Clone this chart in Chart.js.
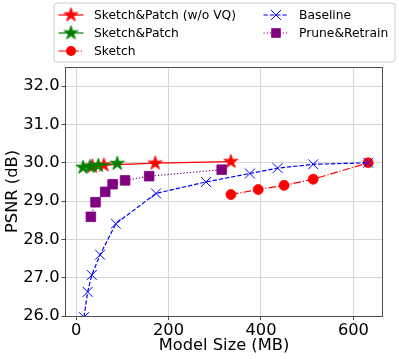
<!DOCTYPE html>
<html>
<head>
<meta charset="utf-8">
<script src="https://cdn.jsdelivr.net/npm/chart.js@4/dist/chart.umd.min.js"></script>
<style>
  html, body { margin: 0; padding: 0; background: #ffffff; }
  #wrap { position: relative; width: 399px; height: 359px; }
</style>
</head>
<body>
<div id="wrap"><canvas id="c" width="399" height="359"></canvas></div>
<script>
// ---- data ----
const seriesNames = ["Sketch&Patch (w/o VQ)", "Sketch&Patch", "Sketch", "Baseline", "Prune&Retrain"];

const wovqSize = [35, 60, 171, 335];
const wovqPsnr = [29.91, 29.94, 29.99, 30.03];

const spSize = [15, 30, 48, 89];
const spPsnr = [29.88, 29.90, 29.93, 29.98];

const sketchSize = [335, 394, 450, 513, 632];
const sketchPsnr = [29.17, 29.30, 29.41, 29.57, 30.00];

const baseSize = [17, 25, 34, 52, 86, 173, 281, 376, 436, 513, 632];
const basePsnr = [25.97, 26.63, 27.07, 27.60, 28.41, 29.20, 29.50, 29.72, 29.86, 29.96, 30.00];

const pruneSize = [32, 42, 63, 79, 106, 158, 315];
const prunePsnr = [28.59, 28.97, 29.24, 29.44, 29.54, 29.65, 29.82];

const yTickValues = [26, 27, 28, 29, 30, 31, 32];
const xTickValues = [0, 200, 400, 600];

const xTitle = "Model Size (MB)";
const yTitle = "PSNR (dB)";

// ---- helpers ----
function pts(xs, ys) { return xs.map((x, i) => ({x: x, y: ys[i]})); }

function makeStar(color, R) {
  const s = Math.ceil(2 * R + 2);
  const cv = document.createElement('canvas');
  cv.width = s; cv.height = s;
  const g = cv.getContext('2d');
  const cx = s / 2, cy = s / 2, r = R * 0.382;
  g.beginPath();
  for (let i = 0; i < 10; i++) {
    const rad = (i % 2 === 0) ? R : r;
    const a = -Math.PI / 2 + i * Math.PI / 5;
    const px = cx + rad * Math.cos(a), py = cy + rad * Math.sin(a);
    if (i === 0) g.moveTo(px, py); else g.lineTo(px, py);
  }
  g.closePath();
  g.fillStyle = color; g.fill();
  g.lineWidth = 0.8; g.strokeStyle = color; g.stroke();
  return cv;
}

const RED = '#ff0000', GREEN = '#008000', BLUE = '#0000ff', PURPLE = '#800080';
const starRed = makeStar(RED, 7.5);
const starGreen = makeStar(GREEN, 7.5);

const LW = 1.2;
const styles = [
  {color: RED, dash: [], marker: 'star', img: starRed},
  {color: GREEN, dash: [], marker: 'star', img: starGreen},
  {color: RED, dash: [7.7, 1.9, 1.2, 1.9], marker: 'circle', radius: 5},
  {color: BLUE, dash: [4.4, 1.9], marker: 'crossRot', radius: 7},
  {color: PURPLE, dash: [1.2, 2], marker: 'rect', radius: 6.8}
];

const rawData = [
  pts(wovqSize, wovqPsnr),
  pts(spSize, spPsnr),
  pts(sketchSize, sketchPsnr),
  pts(baseSize, basePsnr),
  pts(pruneSize, prunePsnr)
];

const datasets = rawData.map((d, i) => {
  const st = styles[i];
  return {
    label: seriesNames[i],
    data: d,
    showLine: true,
    borderColor: st.color,
    backgroundColor: st.color,
    borderWidth: LW,
    borderDash: st.dash,
    pointStyle: st.img ? st.img : st.marker,
    pointRadius: st.img ? 7.5 : st.radius,
    pointHoverRadius: st.img ? 7.5 : st.radius,
    pointBorderColor: st.color,
    pointBackgroundColor: st.color,
    pointBorderWidth: st.marker === 'crossRot' ? 1 : 0.8,
    clip: 0,
    order: 5 - i,
    tension: 0
  };
});

function drawMarker(ctx, st, x, y) {
  ctx.save();
  ctx.setLineDash([]);
  if (st.img) {
    ctx.drawImage(st.img, x - st.img.width / 2, y - st.img.height / 2);
  } else if (st.marker === 'circle') {
    ctx.beginPath(); ctx.arc(x, y, st.radius, 0, Math.PI * 2);
    ctx.fillStyle = st.color; ctx.fill();
  } else if (st.marker === 'rect') {
    const s = st.radius * Math.SQRT1_2;
    ctx.fillStyle = st.color; ctx.fillRect(x - s, y - s, 2 * s, 2 * s);
  } else if (st.marker === 'crossRot') {
    const o = st.radius * Math.SQRT1_2;
    ctx.strokeStyle = st.color; ctx.lineWidth = 1;
    ctx.beginPath();
    ctx.moveTo(x - o, y - o); ctx.lineTo(x + o, y + o);
    ctx.moveTo(x - o, y + o); ctx.lineTo(x + o, y - o);
    ctx.stroke();
  }
  ctx.restore();
}

const FONT = 'DejaVu Sans';

const framePlugin = {
  id: 'frame',
  afterDatasetsDraw(chart) {
    const {ctx, chartArea: a} = chart;
    ctx.save();
    ctx.strokeStyle = '#4d4d4d';
    ctx.lineWidth = 1;
    ctx.strokeRect(Math.round(a.left) + 0.5, Math.round(a.top) + 0.5,
                   Math.round(a.right - a.left) - 1, Math.round(a.bottom - a.top));
    ctx.restore();
  }
};

const legendPlugin = {
  id: 'mplLegend',
  afterDraw(chart) {
    const ctx = chart.ctx;
    ctx.save();
    // box
    const bx = 54, by = 3, bw = 341, bh = 59, r = 3;
    ctx.beginPath();
    ctx.moveTo(bx + r, by); ctx.lineTo(bx + bw - r, by);
    ctx.arcTo(bx + bw, by, bx + bw, by + r, r);
    ctx.lineTo(bx + bw, by + bh - r);
    ctx.arcTo(bx + bw, by + bh, bx + bw - r, by + bh, r);
    ctx.lineTo(bx + r, by + bh);
    ctx.arcTo(bx, by + bh, bx, by + bh - r, r);
    ctx.lineTo(bx, by + r);
    ctx.arcTo(bx, by, bx + r, by, r);
    ctx.closePath();
    ctx.fillStyle = 'rgba(255,255,255,0.8)'; ctx.fill();
    ctx.strokeStyle = '#cccccc'; ctx.lineWidth = 1; ctx.stroke();

    const rows = [15, 33, 51];
    const cols = [{x0: 58.5, x1: 83.5, tx: 94}, {x0: 263.5, x1: 288.5, tx: 299}];
    const order = [0, 1, 2, 3, 4];
    ctx.font = '12.3px "' + FONT + '"';
    ctx.textBaseline = 'middle';
    ctx.textAlign = 'left';
    order.forEach((idx, k) => {
      const col = cols[Math.floor(k / 3)];
      const y = rows[k % 3];
      const st = styles[idx];
      ctx.save();
      ctx.strokeStyle = st.color; ctx.lineWidth = LW;
      ctx.setLineDash(st.dash);
      ctx.beginPath(); ctx.moveTo(col.x0, y); ctx.lineTo(col.x1, y); ctx.stroke();
      ctx.restore();
      drawMarker(ctx, st, (col.x0 + col.x1) / 2, y);
      ctx.fillStyle = '#000000';
      ctx.fillText(seriesNames[idx], col.tx, y + 0.5);
    });
    ctx.restore();
  }
};

const tickFont = {family: FONT, size: 16.3};

new Chart(document.getElementById('c'), {
  type: 'scatter',
  data: {datasets: datasets},
  plugins: [framePlugin, legendPlugin],
  options: {
    responsive: false,
    animation: false,
    devicePixelRatio: 1,
    layout: {padding: {top: 67, right: 16, left: 0, bottom: 0}},
    plugins: {legend: {display: false}, tooltip: {enabled: false}},
    scales: {
      x: {
        type: 'linear',
        min: -24, max: 664,
        afterBuildTicks(scale) { scale.ticks = xTickValues.map(v => ({value: v})); },
        afterFit(scale) { scale.height = 43; },
        ticks: {
          includeBounds: false,
          font: tickFont, color: '#000000', padding: 1,
          maxRotation: 0,
          callback: (v) => String(v)
        },
        grid: {color: '#d6d6d6', lineWidth: 1, tickLength: 4, tickColor: '#4d4d4d', drawOnChartArea: true},
        border: {display: false},
        title: {display: true, text: xTitle, font: tickFont, color: '#000000', padding: {top: 0, bottom: 3}}
      },
      y: {
        type: 'linear',
        min: 26, max: 32.5,
        afterBuildTicks(scale) { scale.ticks = yTickValues.map(v => ({value: v})); },
        afterFit(scale) { scale.width = 65; },
        ticks: {
          includeBounds: false,
          font: tickFont, color: '#000000', padding: 2,
          callback: (v) => Number(v).toFixed(1)
        },
        grid: {color: '#d6d6d6', lineWidth: 1, tickLength: 3.5, tickColor: '#4d4d4d'},
        border: {display: false},
        title: {display: true, text: yTitle, font: tickFont, color: '#000000', padding: {top: 3, bottom: 0}}
      }
    }
  }
});
</script>
</body>
</html>
